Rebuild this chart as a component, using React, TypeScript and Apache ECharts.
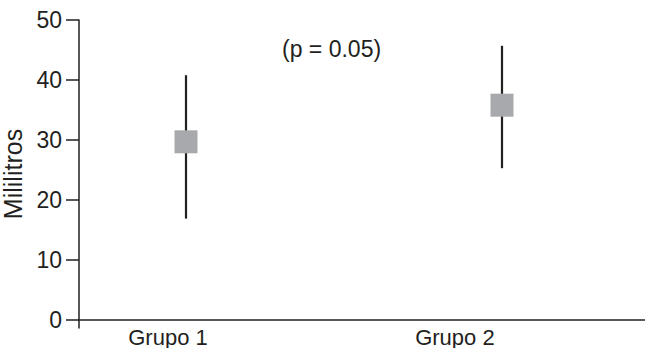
import React, { useEffect, useRef } from "react";
import * as echarts from "echarts";

// Group means with their lower/upper whisker limits (mL)
const groups = ["Grupo 1", "Grupo 2"];
const means = [29.7, 35.8];
const lowers = [16.9, 25.3];
const uppers = [40.8, 45.7];
const yTicks = [0, 10, 20, 30, 40, 50];
const annotation = "(p = 0.05)";
const yTitle = "Mililitros";

// layout (axis units)
const X_MIN = 0.6614;
const X_MAX = 2.4905;
const LABEL_AT = [0.943, 1.851];

const FONT = "'Liberation Sans', Arial, Helvetica, sans-serif";
const INK = "#231f20";

export default function App() {
  const ref = useRef<HTMLDivElement>(null);

  useEffect(() => {
    if (!ref.current) return;
    const chart = echarts.init(ref.current, undefined, { renderer: "svg" });
    const xs = groups.map((_, i) => i + 1);

    chart.setOption({
      animation: false,
      backgroundColor: "#ffffff",
      grid: {
        left: 79,
        right: -12,
        top: 20,
        bottom: 20,
        containLabel: false,
        outerBoundsMode: "none",
      },
      xAxis: {
        type: "value",
        min: X_MIN,
        max: X_MAX,
        splitLine: { show: false },
        axisLine: { show: true, onZero: true, lineStyle: { color: INK, width: 1.5 } },
        axisTick: { show: false },
        axisLabel: {
          show: true,
          customValues: LABEL_AT,
          formatter: (v: number) => groups[LABEL_AT.indexOf(v)] ?? "",
          margin: -2,
          color: INK,
          fontSize: 22,
          fontFamily: FONT,
        },
      },
      yAxis: {
        type: "value",
        min: -8 / 6,
        max: 50,
        splitLine: { show: false },
        axisLine: { show: true, lineStyle: { color: INK, width: 1.5 } },
        axisTick: {
          show: true,
          customValues: yTicks,
          length: 13,
          lineStyle: { color: INK, width: 1.5 },
        },
        axisLabel: {
          show: true,
          customValues: yTicks,
          margin: 17,
          color: INK,
          fontSize: 23,
          fontFamily: FONT,
        },
        name: yTitle,
        nameLocation: "middle",
        nameRotate: 90,
        nameGap: 43,
        nameTextStyle: { color: INK, fontSize: 25, fontFamily: FONT },
      },
      series: [
        {
          type: "custom",
          z: 1,
          data: xs.map((x, i) => [x, lowers[i], uppers[i]]),
          renderItem: (params: any, api: any) => {
            const lo = api.coord([api.value(0), api.value(1)]);
            const hi = api.coord([api.value(0), api.value(2)]);
            return {
              type: "line",
              shape: { x1: lo[0], y1: lo[1], x2: hi[0], y2: hi[1] },
              style: { stroke: INK, lineWidth: 2.2 },
            };
          },
        },
        {
          type: "scatter",
          z: 2,
          symbol: "rect",
          symbolSize: 23,
          itemStyle: { color: "#a7a9ac", opacity: 1 },
          data: xs.map((x, i) => [x, means[i]]),
        },
      ],
      graphic: [
        {
          type: "text",
          left: 282,
          top: 37,
          style: { text: annotation, fill: INK, font: `23px ${FONT}` },
        },
      ],
    });

    return () => chart.dispose();
  }, []);

  return (
    <div
      ref={ref}
      style={{ position: "absolute", left: 0, top: 0, width: 645, height: 348 }}
    />
  );
}
